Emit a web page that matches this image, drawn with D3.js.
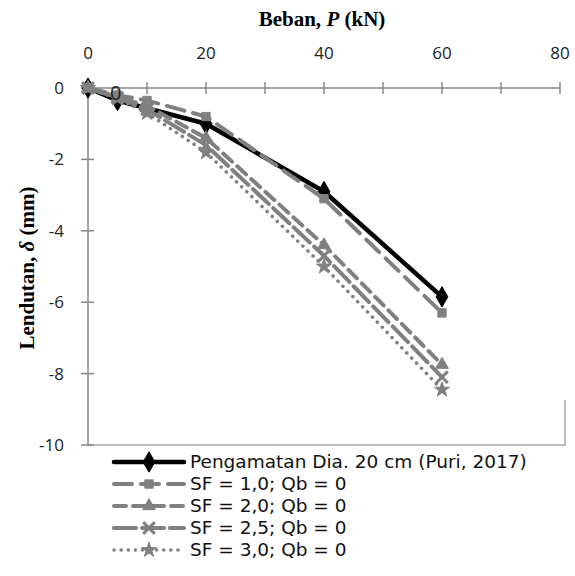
<!DOCTYPE html>
<html>
<head>
<meta charset="utf-8">
<script src="https://cdn.jsdelivr.net/npm/d3@7"></script>
<style>
  body { margin: 0; background: #fff; }
  svg { display: block; }
  .tick-label { font-family: "Open Sans", Lato, sans-serif; font-size: 17px; fill: #222; }
  .axis-title { font-family: "Liberation Serif", "DejaVu Serif", serif; font-size: 21px; font-weight: bold; }
  .legend-text { font-family: "DejaVu Sans", "Open Sans", sans-serif; font-size: 18.5px; fill: #111; }
</style>
</head>
<body>
<svg id="chart" width="575" height="576"></svg>
<script>
// data
const xTicks = [0, 10, 20, 30, 40, 50, 60, 70, 80]
const xLabels = [0, 20, 40, 60, 80]
const yTicks = [0, -2, -4, -6, -8, -10]

const obsLoad = [0, 5, 20, 40, 60]
const obsDefl = [0, -0.35, -1.0, -2.9, -5.85]

const sfLoad = [0, 5, 10, 20, 40, 60]
const sf10 = [0, -0.2, -0.35, -0.8, -3.1, -6.3]
const sf20 = [0, -0.25, -0.5, -1.4, -4.4, -7.75]
const sf25 = [0, -0.28, -0.6, -1.6, -4.7, -8.1]
const sf30 = [0, -0.3, -0.7, -1.8, -5.0, -8.45]

const seriesNames = [
  'Pengamatan Dia. 20 cm (Puri, 2017)',
  'SF = 1,0; Qb = 0',
  'SF = 2,0; Qb = 0',
  'SF = 2,5; Qb = 0',
  'SF = 3,0; Qb = 0'
]

const svg = d3.select('#chart')
const axisColor = '#868686'
const gray = '#808080'

const x = d3.scaleLinear().domain([0, 80]).range([88, 560])
const y = d3.scaleLinear().domain([0, -10]).range([88, 445])

// box edge at lower right
svg.append('path')
  .attr('d', `M${x(0)},${y(-10)}H565V400`)
  .attr('fill', 'none')
  .attr('stroke', '#a6a6a6')
  .attr('stroke-width', 1.5)

// x axis along zero (top)
svg.append('line')
  .attr('x1', x(0)).attr('x2', x(80))
  .attr('y1', y(0)).attr('y2', y(0))
  .attr('stroke', axisColor).attr('stroke-width', 1.5)
svg.selectAll('line.xtick').data(xTicks).enter().append('line')
  .attr('class', 'xtick')
  .attr('x1', d => x(d)).attr('x2', d => x(d))
  .attr('y1', y(0) - 6).attr('y2', y(0) + 6)
  .attr('stroke', axisColor).attr('stroke-width', 1.5)
svg.selectAll('text.xlab').data(xLabels).enter().append('text')
  .attr('class', 'tick-label xlab')
  .attr('x', d => x(d)).attr('y', 59)
  .attr('text-anchor', 'middle')
  .text(d => d)

// y axis
svg.append('line')
  .attr('x1', x(0)).attr('x2', x(0))
  .attr('y1', y(0)).attr('y2', y(-10))
  .attr('stroke', axisColor).attr('stroke-width', 1.5)
svg.selectAll('line.ytick').data(yTicks).enter().append('line')
  .attr('class', 'ytick')
  .attr('x1', x(0) - 7).attr('x2', x(0) + 6)
  .attr('y1', d => y(d)).attr('y2', d => y(d))
  .attr('stroke', axisColor).attr('stroke-width', 1.5)
svg.selectAll('text.ylab').data(yTicks).enter().append('text')
  .attr('class', 'tick-label ylab')
  .attr('x', 64).attr('y', d => y(d))
  .attr('dy', '0.35em')
  .attr('text-anchor', 'end')
  .text(d => d === 0 ? '0' : '-' + Math.abs(d))

// titles
const xt = svg.append('text').attr('class', 'axis-title')
  .attr('x', 322).attr('y', 26).attr('text-anchor', 'middle')
xt.append('tspan').text('Beban, ')
xt.append('tspan').attr('font-style', 'italic').text('P')
xt.append('tspan').text(' (kN)')

const yt = svg.append('text').attr('class', 'axis-title')
  .attr('transform', 'translate(34,268) rotate(-90)')
  .attr('text-anchor', 'middle')
yt.append('tspan').text('Lendutan, ')
yt.append('tspan').attr('font-style', 'italic').text('δ')
yt.append('tspan').text(' (mm)')

// series
const series = [
  { name: seriesNames[0], load: obsLoad, vals: obsDefl, color: '#000', width: 4.5, dash: null, symbol: d3.symbolDiamond, size: 120 },
  { name: seriesNames[1], load: sfLoad, vals: sf10, color: gray, width: 4, dash: '18,9', symbol: d3.symbolSquare, size: 70 },
  { name: seriesNames[2], load: sfLoad, vals: sf20, color: gray, width: 4, dash: '12,7', symbol: d3.symbolTriangle, size: 70 },
  { name: seriesNames[3], load: sfLoad, vals: sf25, color: gray, width: 4, dash: '22,6', symbol: d3.symbolX, size: 90 },
  { name: seriesNames[4], load: sfLoad, vals: sf30, color: gray, width: 3.5, dash: '0.1,7', symbol: d3.symbolStar, size: 70 }
]

const line = d3.line().x(d => x(d[0])).y(d => y(d[1]))

series.forEach(s => {
  const pts = s.load.map((p, i) => [p, s.vals[i]])
  const g = svg.append('g')
  g.append('path')
    .attr('d', line(pts))
    .attr('fill', 'none')
    .attr('stroke', s.color)
    .attr('stroke-width', s.width)
    .attr('stroke-linecap', 'round')
    .attr('stroke-linejoin', 'round')
    .attr('stroke-dasharray', s.dash)
  g.selectAll('path.mk').data(pts).enter().append('path')
    .attr('class', 'mk')
    .attr('transform', d => `translate(${x(d[0])},${y(d[1])})`)
    .attr('d', d3.symbol().type(s.symbol).size(s.size))
    .attr('fill', s.color)
    .attr('stroke', s.color)
    .attr('stroke-width', s.symbol === d3.symbolX ? 3 : 1)
})

// stray data label
svg.append('text')
  .attr('class', 'tick-label')
  .attr('x', x(4.7)).attr('y', y(-0.15))
  .attr('dy', '0.35em')
  .attr('text-anchor', 'middle')
  .style('font-size', '20px')
  .text('0')

// legend
const leg = svg.append('g')
series.forEach((s, i) => {
  const ly = 462 + i * 22
  leg.append('line')
    .attr('x1', 114).attr('x2', 184)
    .attr('y1', ly).attr('y2', ly)
    .attr('stroke', s.color)
    .attr('stroke-width', s.width)
    .attr('stroke-linecap', 'round')
    .attr('stroke-dasharray', s.dash)
  leg.append('path')
    .attr('transform', `translate(149,${ly})`)
    .attr('d', d3.symbol().type(s.symbol).size(s.size))
    .attr('fill', s.color)
    .attr('stroke', s.color)
    .attr('stroke-width', s.symbol === d3.symbolX ? 3 : 1)
  leg.append('text')
    .attr('class', 'legend-text')
    .attr('x', 190).attr('y', ly)
    .attr('dy', '0.35em')
    .text(s.name)
})
</script>
</body>
</html>
